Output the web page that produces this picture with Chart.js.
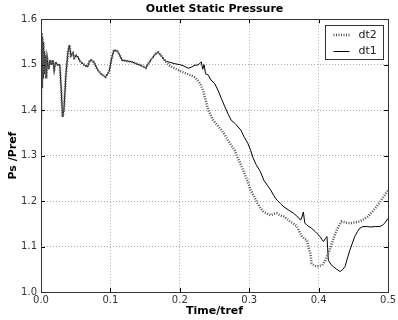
<!DOCTYPE html>
<html>
<head>
<meta charset="utf-8">
<script src="https://cdn.jsdelivr.net/npm/chart.js@4/dist/chart.umd.min.js"></script>
<style>
html,body{margin:0;padding:0;background:#fff;}
#wrap{width:398px;height:320px;}
</style>
</head>
<body>
<div id="wrap"><canvas id="c" width="398" height="320"></canvas></div>
<script>
const chartTitle = "Outlet Static Pressure";
const xTitle = "Time/tref";
const yTitle = "Ps /Pref";
const seriesNames = ["dt2", "dt1"];
const xTicks = [0.0, 0.1, 0.2, 0.3, 0.4, 0.5];
const yTicks = [1.0, 1.1, 1.2, 1.3, 1.4, 1.5, 1.6];

// shared early history (both runs coincide)
const commonTime = [0.000,0.0008,0.0015,0.002,0.003,0.0035,0.0045,0.005,0.006,0.0068,0.0076,0.009,0.011,0.013,0.015,0.017,0.019,0.021,0.024,0.027,0.029,0.031,0.033,0.036,0.039,0.041,0.043,0.046,0.048,0.051,0.053,0.057,0.062,0.067,0.070,0.072,0.076,0.081,0.086,0.093,0.098,0.102,0.105,0.110,0.117,0.124,0.131,0.136,0.141,0.146,0.151,0.155,0.160,0.165,0.169,0.174,0.179];
const commonPs   = [1.38,1.57,1.45,1.56,1.47,1.55,1.48,1.53,1.49,1.52,1.47,1.51,1.49,1.51,1.50,1.51,1.49,1.505,1.50,1.50,1.45,1.385,1.40,1.48,1.53,1.543,1.52,1.525,1.515,1.52,1.517,1.506,1.50,1.495,1.508,1.51,1.506,1.49,1.48,1.473,1.484,1.515,1.532,1.53,1.51,1.508,1.506,1.503,1.50,1.497,1.493,1.503,1.514,1.524,1.527,1.518,1.508];

const dt1LateTime = [0.186,0.193,0.200,0.206,0.212,0.217,0.222,0.226,0.231,0.233,0.235,0.237,0.241,0.245,0.250,0.255,0.260,0.265,0.270,0.274,0.280,0.288,0.293,0.298,0.302,0.305,0.310,0.316,0.321,0.326,0.331,0.335,0.340,0.345,0.350,0.357,0.364,0.370,0.374,0.376,0.378,0.380,0.383,0.386,0.390,0.395,0.398,0.402,0.405,0.407,0.410,0.412,0.414,0.418,0.421,0.426,0.431,0.435,0.438,0.441,0.445,0.448,0.452,0.456,0.459,0.464,0.469,0.475,0.482,0.488,0.492,0.495,0.500];
const dt1LatePs   = [1.505,1.502,1.500,1.497,1.492,1.495,1.499,1.499,1.506,1.490,1.500,1.480,1.477,1.466,1.459,1.444,1.425,1.407,1.390,1.378,1.370,1.356,1.340,1.327,1.312,1.297,1.280,1.265,1.246,1.235,1.224,1.213,1.202,1.195,1.187,1.180,1.173,1.165,1.158,1.165,1.176,1.152,1.147,1.144,1.140,1.133,1.128,1.122,1.115,1.111,1.118,1.122,1.070,1.060,1.056,1.050,1.045,1.050,1.056,1.072,1.092,1.105,1.122,1.133,1.140,1.144,1.144,1.143,1.144,1.144,1.147,1.151,1.162];

const dt2LateTime = [0.184,0.190,0.198,0.205,0.212,0.217,0.222,0.226,0.229,0.233,0.236,0.241,0.248,0.254,0.260,0.265,0.269,0.274,0.279,0.283,0.288,0.293,0.298,0.302,0.307,0.312,0.316,0.321,0.326,0.331,0.336,0.340,0.345,0.350,0.355,0.359,0.364,0.369,0.373,0.376,0.380,0.383,0.386,0.388,0.390,0.394,0.397,0.401,0.405,0.409,0.412,0.416,0.419,0.422,0.426,0.430,0.433,0.438,0.445,0.452,0.459,0.465,0.471,0.477,0.483,0.488,0.492,0.496,0.500];
const dt2LatePs   = [1.499,1.494,1.488,1.483,1.479,1.476,1.472,1.465,1.459,1.445,1.429,1.400,1.378,1.367,1.356,1.345,1.334,1.323,1.312,1.297,1.280,1.261,1.242,1.224,1.210,1.195,1.185,1.176,1.172,1.169,1.172,1.173,1.168,1.166,1.160,1.155,1.150,1.144,1.130,1.122,1.117,1.114,1.095,1.085,1.063,1.058,1.056,1.057,1.059,1.068,1.078,1.093,1.107,1.120,1.136,1.148,1.155,1.153,1.151,1.153,1.155,1.160,1.166,1.176,1.187,1.197,1.206,1.215,1.224];

function pts(ts, vs){ return ts.map((t,i)=>({x:t, y:vs[i]})); }
const dt2Data = pts(commonTime.concat(dt2LateTime), commonPs.concat(dt2LatePs));
const dt1Data = pts(commonTime.concat(dt1LateTime), commonPs.concat(dt1LatePs));

const FONT = "'DejaVu Sans', sans-serif";

const framePlugin = {
  id: 'frame',
  afterDatasetsDraw(chart){
    const {ctx, chartArea:a, scales} = chart;
    ctx.save();
    ctx.strokeStyle = '#000';
    ctx.lineWidth = 1;
    ctx.beginPath();
    xTicks.forEach(v=>{
      const px = Math.round(scales.x.getPixelForValue(v))+0.5;
      ctx.moveTo(px, a.bottom); ctx.lineTo(px, a.bottom-4);
      ctx.moveTo(px, a.top); ctx.lineTo(px, a.top+4);
    });
    yTicks.forEach(v=>{
      const py = Math.round(scales.y.getPixelForValue(v))+0.5;
      ctx.moveTo(a.left, py); ctx.lineTo(a.left+4, py);
      ctx.moveTo(a.right, py); ctx.lineTo(a.right-4, py);
    });
    ctx.stroke();
    ctx.strokeStyle = '#333';
    ctx.strokeRect(Math.round(a.left)+0.5, Math.round(a.top)+0.5, Math.round(a.right-a.left), Math.round(a.bottom-a.top));
    // legend box inside upper right
    const bw = 58, bh = 34;
    const bx = Math.round(a.right) - 5 - bw + 0.5, by = Math.round(a.top) + 6 + 0.5;
    ctx.fillStyle = '#fff';
    ctx.fillRect(bx, by, bw, bh);
    ctx.strokeRect(bx, by, bw, bh);
    ctx.font = "11px " + FONT;
    ctx.textBaseline = 'middle';
    ctx.textAlign = 'left';
    chart.data.datasets.forEach((ds,i)=>{
      const yy = Math.round(by + 9 + i*16);
      ctx.save();
      ctx.strokeStyle = ds.borderColor;
      ctx.lineWidth = ds.borderWidth;
      ctx.setLineDash(ds.borderDash || []);
      ctx.beginPath();
      ctx.moveTo(bx+8, yy + (ds.borderWidth===1?0.5:0));
      ctx.lineTo(bx+24, yy + (ds.borderWidth===1?0.5:0));
      ctx.stroke();
      ctx.restore();
      ctx.fillStyle = '#222';
      ctx.fillText(ds.label, bx+33, yy+0.5);
    });
    ctx.restore();
  }
};

new Chart(document.getElementById('c'), {
  type: 'line',
  data: {
    datasets: [
      { label: seriesNames[0], data: dt2Data, borderColor: '#555', borderWidth: 2.5, borderDash: [1,1.5], pointRadius: 0, tension: 0, fill: false },
      { label: seriesNames[1], data: dt1Data, borderColor: '#000', borderWidth: 1, pointRadius: 0, tension: 0, fill: false }
    ]
  },
  options: {
    responsive: false,
    animation: false,
    devicePixelRatio: 1,
    layout: { padding: { right: 6, top: 0, left: 0, bottom: 0 } },
    plugins: {
      legend: { display: false },
      tooltip: { enabled: false },
      title: {
        display: true, text: chartTitle, fullSize: false,
        color: '#000', font: { family: FONT, size: 11, weight: 'bold' },
        padding: { top: 3, bottom: 3 }
      }
    },
    scales: {
      x: {
        type: 'linear', min: 0, max: 0.5,
        afterFit(s){ s.height = 28; },
        afterBuildTicks(s){ s.ticks = xTicks.map(v=>({value:v})); },
        ticks: { color: '#333', font: { family: FONT, size: 10 }, padding: 2, maxRotation: 0, callback: v => v.toFixed(1) },
        grid: { color: '#aaa', drawTicks: false, lineWidth: 1 },
        border: { display: false, dash: [1,2] },
        title: { display: true, text: xTitle, color: '#000', font: { family: FONT, size: 11, weight: 'bold' }, padding: { top: 0, bottom: 2 } }
      },
      y: {
        type: 'linear', min: 1.0, max: 1.6,
        afterFit(s){ s.width = 41; },
        afterBuildTicks(s){ s.ticks = yTicks.map(v=>({value:v})); },
        ticks: { color: '#333', font: { family: FONT, size: 10 }, padding: 4, callback: v => v.toFixed(1) },
        grid: { color: '#aaa', drawTicks: false, lineWidth: 1 },
        border: { display: false, dash: [1,2] },
        title: { display: true, text: yTitle, color: '#000', font: { family: FONT, size: 11, weight: 'bold' }, padding: { top: 7, bottom: 0 } }
      }
    }
  },
  plugins: [framePlugin]
});
</script>
</body>
</html>
